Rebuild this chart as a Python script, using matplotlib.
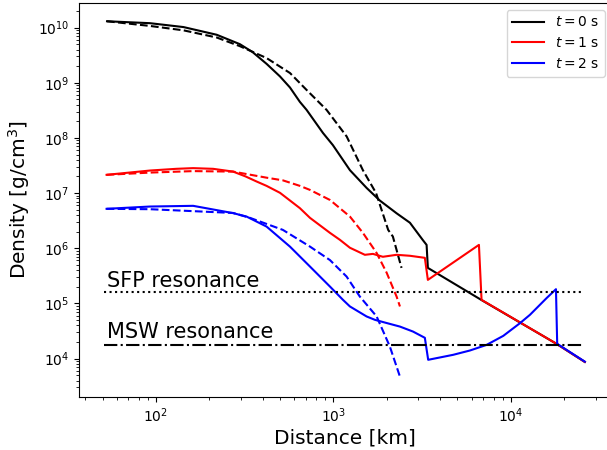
import matplotlib
matplotlib.use("Agg")
import matplotlib.pyplot as plt

# distances [km] and densities [g/cm^3]
r_t0 = [53, 92.5, 143, 220, 297, 350, 420, 500, 569, 647, 706, 873, 993,
        1239, 1538, 1828, 2270, 2698, 3194, 3350, 3406, 6835, 18090, 26100]
rho_t0 = [1.30e10, 1.2e10, 1.02e10, 7.4e9, 5.0e9, 3.6e9, 2.2e9, 1.3e9,
          8.2e8, 4.5e8, 3.22e8, 1.23e8, 7.4e7, 2.6e7, 1.24e7, 7.3e6, 4.3e6,
          2.9e6, 1.4e6, 1.15e6, 4.4e5, 1.15e5, 1.85e4, 8.7e3]

r_t0_fit = [53, 92.5, 143, 220, 297, 420, 569, 706, 915, 1188, 1466, 1739,
            2035, 2163, 2420]
rho_t0_fit = [1.30e10, 1.07e10, 8.9e9, 6.6e9, 4.6e9, 2.8e9, 1.5e9, 7.4e8,
              3.22e8, 1.06e8, 2.6e7, 1.0e7, 2.15e6, 1.63e6, 4.4e5]

r_t1 = [52.7, 92.5, 130, 162, 210, 272, 320, 369, 420, 500, 647, 738, 956,
        1088, 1239, 1504, 1670, 1900, 2270, 2698, 3275, 3406, 6607, 6835,
        18090, 26100]
rho_t1 = [2.14e7, 2.56e7, 2.75e7, 2.83e7, 2.75e7, 2.45e7, 2.0e7, 1.62e7,
          1.35e7, 1.01e7, 5.33e6, 3.55e6, 1.9e6, 1.42e6, 1.02e6, 7.6e5,
          7.9e5, 7.0e5, 7.6e5, 7.3e5, 6.7e5, 2.67e5, 1.15e6, 1.16e5, 1.85e4,
          8.7e3]

r_t1_fit = [52.7, 92.5, 162, 272, 420, 519, 647, 738, 956, 1239, 1466, 1752,
            1995, 2270, 2371]
rho_t1_fit = [2.14e7, 2.35e7, 2.5e7, 2.45e7, 1.9e7, 1.7e7, 1.35e7, 1.14e7,
              7.5e6, 3.75e6, 1.9e6, 8.2e5, 3.6e5, 1.33e5, 8.8e4]

r_t2 = [52.7, 92.5, 162, 272, 324, 420, 569, 738, 956, 1132, 1239, 1538,
        1713, 1900, 2371, 2807, 3275, 3420, 4730, 5875, 7295, 9060, 11250,
        12800, 14560, 15900, 17950, 18240, 26100]
rho_t2 = [5.18e6, 5.7e6, 5.87e6, 4.33e6, 3.75e6, 2.47e6, 1.07e6, 4.65e5,
          2.02e5, 1.16e5, 8.8e4, 5.8e4, 5.04e4, 4.6e4, 3.8e4, 3.09e4, 2.38e4,
          9.5e3, 1.17e4, 1.4e4, 1.77e4, 2.58e4, 4.38e4, 6.2e4, 9.4e4, 1.25e5,
          1.81e5, 1.85e4, 8.8e3]

r_t2_fit = [52.7, 92.5, 272, 339, 519, 738, 956, 1186, 1409, 1752, 2080, 2371]
rho_t2_fit = [5.18e6, 5.1e6, 4.36e6, 3.55e6, 2.15e6, 1.07e6, 6.1e5, 3.07e5,
              1.33e5, 5.8e4, 1.65e4, 4.7e3]

r_res = [51, 25500]
rho_sfp = 1.62e5
rho_msw = 1.77e4

fig = plt.figure(figsize=(6.07, 4.5), dpi=100)
ax = fig.add_axes([0.130, 0.118, 0.878, 0.8756])

ax.plot(r_t0, rho_t0, color="black", label="$t = 0$ s")
ax.plot(r_t0_fit, rho_t0_fit, color="black", ls="--")
ax.plot(r_t1, rho_t1, color="red", label="$t = 1$ s")
ax.plot(r_t1_fit, rho_t1_fit, color="red", ls="--")
ax.plot(r_t2, rho_t2, color="blue", label="$t = 2$ s")
ax.plot(r_t2_fit, rho_t2_fit, color="blue", ls="--")

ax.plot(r_res, [rho_sfp, rho_sfp], color="black", ls=":")
ax.plot(r_res, [rho_msw, rho_msw], color="black", ls="-.")
ax.text(53, 2.02e5, "SFP resonance", fontsize=15, va="baseline")
ax.text(53, 2.34e4, "MSW resonance", fontsize=15, va="baseline")

ax.set_xscale("log")
ax.set_yscale("log")
ax.set_xlim(36.8, 37070)
ax.set_ylim(2020, 2.8e10)
ax.set_xlabel("Distance [km]", fontsize=14.5, labelpad=2.5)
ax.set_ylabel("Density [g/cm$^3$]", fontsize=14.5)
ax.tick_params(labelsize=10)
ax.legend(loc="upper right", fontsize=10, handlelength=2.3)

fig.savefig("out.png", dpi=100)
